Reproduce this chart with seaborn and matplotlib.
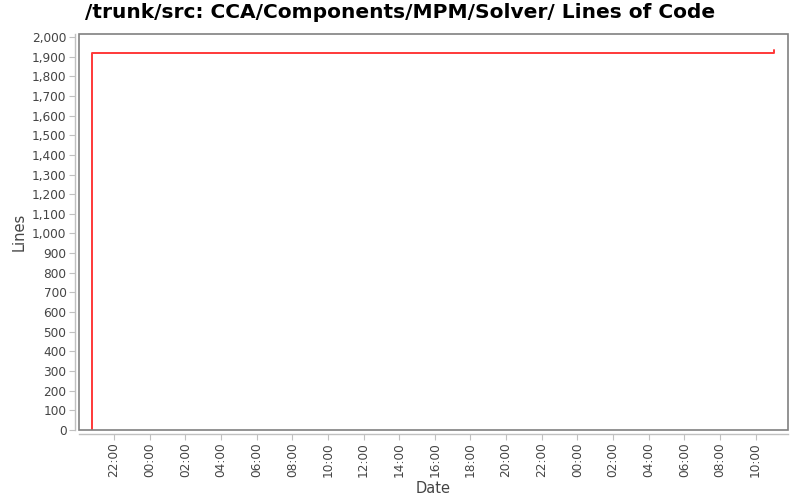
import matplotlib
matplotlib.use("Agg")
import matplotlib.pyplot as plt
import matplotlib.dates as mdates
from matplotlib.patches import Rectangle
from matplotlib.ticker import FuncFormatter, MultipleLocator
import seaborn as sns
import pandas as pd

# Data
times = ["2009-03-10 20:47", "2009-03-10 20:47", "2009-03-12 11:03"]
lines = [0, 1920, 1934]
x_start = "2009-03-10 20:02"
x_end = "2009-03-12 11:49"
title = "/trunk/src: CCA/Components/MPM/Solver/ Lines of Code"

df = pd.DataFrame({"Date": pd.to_datetime(times), "Lines": lines})

sns.set_theme(style="white")
plt.rcParams['font.family'] = ['DejaVu Sans']

fig = plt.figure(figsize=(8, 5), dpi=100)
ax = fig.add_axes([79/800, (500-430)/500, (788-79)/800, (430-34)/500])

sns.lineplot(data=df, x="Date", y="Lines", ax=ax, sort=False, color="#ff3838",
             linewidth=1.4, drawstyle="steps-post", estimator=None)

ax.set_xlim(pd.Timestamp(x_start), pd.Timestamp(x_end))
ax.set_ylim(0, 2015)

ax.yaxis.set_major_locator(MultipleLocator(100))
ax.yaxis.set_major_formatter(FuncFormatter(lambda v, p: f"{int(v):,}"))
ax.xaxis.set_major_locator(mdates.HourLocator(byhour=range(0, 24, 2)))
ax.xaxis.set_major_formatter(mdates.DateFormatter("%H:%M"))

for side in ["top", "right"]:
    ax.spines[side].set_visible(False)
for side in ["left", "bottom"]:
    ax.spines[side].set_position(("outward", 3))
    ax.spines[side].set_color("#c0c0c0")
    ax.spines[side].set_linewidth(1)

ax.add_patch(Rectangle((0, 0), 1, 1, transform=ax.transAxes, fill=False,
                       edgecolor="#808080", linewidth=1.2, zorder=5, clip_on=False))

ax.tick_params(axis="both", which="major", length=4, width=0.8, color="#c0c0c0",
               labelsize=8.7, labelcolor="#444444", direction="out", bottom=True, left=True)
ax.tick_params(axis="y", pad=2)
ax.tick_params(axis="x", pad=2)
for lbl in ax.get_xticklabels():
    lbl.set_rotation(90)

ax.set_xlabel("Date", fontsize=10.5, color="#444444", labelpad=3)
ax.set_ylabel("Lines", fontsize=10.5, color="#444444", labelpad=4)
fig.text(0.5, 0.974, title, ha="center", va="center", fontsize=14.5, fontweight="bold", color="black")

fig.savefig("out.png", dpi=100)
